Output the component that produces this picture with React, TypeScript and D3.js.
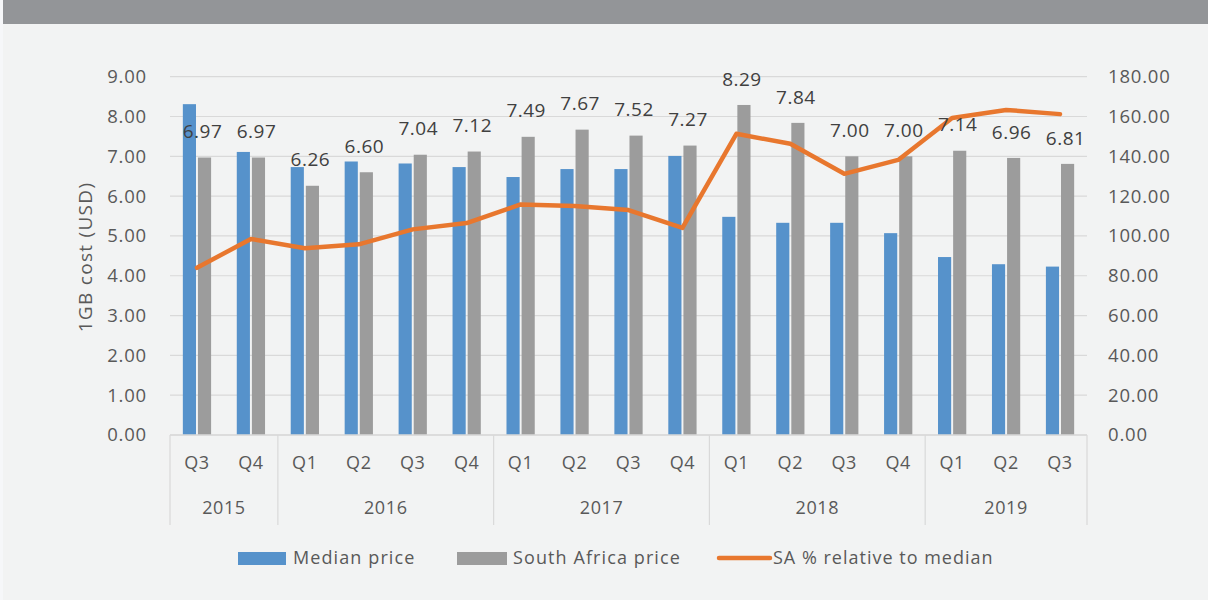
import * as d3 from 'd3'

const quarters = ['Q3', 'Q4', 'Q1', 'Q2', 'Q3', 'Q4', 'Q1', 'Q2', 'Q3', 'Q4', 'Q1', 'Q2', 'Q3', 'Q4', 'Q1', 'Q2', 'Q3']
const years = ['2015', '2015', '2016', '2016', '2016', '2016', '2017', '2017', '2017', '2017', '2018', '2018', '2018', '2018', '2019', '2019', '2019']
const medianPrice = [8.31, 7.11, 6.73, 6.87, 6.82, 6.73, 6.48, 6.68, 6.68, 7.01, 5.48, 5.33, 5.33, 5.07, 4.47, 4.29, 4.23]
const saPrice = [6.97, 6.97, 6.26, 6.6, 7.04, 7.12, 7.49, 7.67, 7.52, 7.27, 8.29, 7.84, 7.0, 7.0, 7.14, 6.96, 6.81]
const saRelative = [84, 98.5, 93.8, 95.8, 103.3, 106.5, 115.8, 115, 113, 104, 151.3, 146.3, 131.2, 138.2, 159.3, 163.3, 161.2]
const leftTicks = [0, 1, 2, 3, 4, 5, 6, 7, 8, 9]
const rightTicks = [0, 20, 40, 60, 80, 100, 120, 140, 160, 180]

const W = 1208
const H = 600
const font = "'Open Sans', sans-serif"
const textColor = '#595959'
const gridColor = '#d9d9d9'
const blue = '#5692cb'
const grey = '#9c9c9c'
const orange = '#e8772e'

export default function App() {
  const left = 170
  const right = 1087
  const top = 76.7
  const bottom = 435

  const idx = quarters.map((_, i) => i)
  const x = d3.scaleBand<number>().domain(idx).range([left, right]).padding(0)
  const x1 = d3.scaleBand<string>()
    .domain(['median', 'sa'])
    .range([0, x.bandwidth()])
    .paddingInner(0.13)
    .paddingOuter(0.85)
  const y = d3.scaleLinear().domain([0, 9]).range([bottom, top])
  const y2 = d3.scaleLinear().domain([0, 180]).range([bottom, top])

  const line = d3.line<number>()
    .x((_, i) => x(i)! + x.bandwidth() / 2)
    .y(d => y2(d))

  // year groups
  const groups: { year: string, start: number, end: number }[] = []
  years.forEach((yr, i) => {
    const g = groups[groups.length - 1]
    if (g && g.year === yr) g.end = i
    else groups.push({ year: yr, start: i, end: i })
  })
  const bounds = [left, ...groups.map(g => x(g.end)! + x.bandwidth())]

  return (
    <svg width={W} height={H} style={{ position: 'absolute', left: 0, top: 0 }} fontFamily={font}>
      <rect x={0} y={0} width={W} height={H} fill='#f2f3f3' />
      <rect x={0} y={0} width={3} height={H} fill='#f6f7f9' />
      <rect x={3} y={0} width={W - 3} height={24} fill='#939598' />

      {/* gridlines */}
      {leftTicks.map(t => (
        <line key={t} x1={left} x2={right} y1={y(t)} y2={y(t)} stroke={gridColor} strokeWidth={1.2} />
      ))}

      {/* left axis labels */}
      {leftTicks.map(t => (
        <text key={t} x={147} y={y(t)} dy='0.35em' textAnchor='end' fontSize={18.5} letterSpacing={0.8} fill={textColor}>
          {t.toFixed(2)}
        </text>
      ))}
      {/* right axis labels */}
      {rightTicks.map(t => (
        <text key={t} x={1108} y={y2(t)} dy='0.35em' textAnchor='start' fontSize={18.5} letterSpacing={0.8} fill={textColor}>
          {t.toFixed(2)}
        </text>
      ))}
      <text transform={`translate(92, 257) rotate(-90)`} textAnchor='middle' fontSize={19} letterSpacing={1.3} fill={textColor}>
        1GB cost (USD)
      </text>

      {/* bars */}
      {idx.map(i => (
        <g key={i}>
          <rect x={x(i)! + x1('median')!} y={y(medianPrice[i])} width={x1.bandwidth()}
            height={bottom - y(medianPrice[i])} fill={blue} />
          <rect x={x(i)! + x1('sa')!} y={y(saPrice[i])} width={x1.bandwidth()}
            height={bottom - y(saPrice[i])} fill={grey} />
        </g>
      ))}

      {/* line */}
      <path d={line(saRelative)!} fill='none' stroke={orange} strokeWidth={4.5}
        strokeLinejoin='round' strokeLinecap='round' />

      {/* data labels */}
      {idx.map(i => (
        <text key={i} x={x(i)! + x1('sa')! + x1.bandwidth() / 2 - 2} y={y(saPrice[i]) - 26} dy='0.35em'
          textAnchor='middle' fontSize={19} letterSpacing={0.5} fill='#404040'>
          {saPrice[i].toFixed(2)}
        </text>
      ))}

      {/* x axis */}
      <line x1={left} x2={right} y1={bottom} y2={bottom} stroke={gridColor} strokeWidth={1.5} />
      {bounds.map((b, i) => (
        <line key={i} x1={b} x2={b} y1={bottom} y2={525} stroke={gridColor} strokeWidth={1.2} />
      ))}
      {idx.map(i => (
        <text key={i} x={x(i)! + x.bandwidth() / 2} y={463} dy='0.35em' textAnchor='middle'
          fontSize={18} letterSpacing={0.6} fill={textColor}>
          {quarters[i]}
        </text>
      ))}
      {groups.map(g => (
        <text key={g.year} x={(x(g.start)! + x(g.end)! + x.bandwidth()) / 2} y={508} dy='0.35em'
          textAnchor='middle' fontSize={18} letterSpacing={0.6} fill={textColor}>
          {g.year}
        </text>
      ))}

      {/* legend */}
      <rect x={238} y={552} width={48} height={13} fill={blue} />
      <text x={293} y={558} dy='0.35em' fontSize={18} letterSpacing={1.1} fill={textColor}>Median price</text>
      <rect x={457} y={552} width={50} height={13} fill={grey} />
      <text x={513} y={558} dy='0.35em' fontSize={18} letterSpacing={1.1} fill={textColor}>South Africa price</text>
      <line x1={719} x2={770} y1={558} y2={558} stroke={orange} strokeWidth={4.5} strokeLinecap='round' />
      <text x={773} y={558} dy='0.35em' fontSize={18} letterSpacing={1.0} fill={textColor}>SA % relative to median</text>
    </svg>
  )
}
